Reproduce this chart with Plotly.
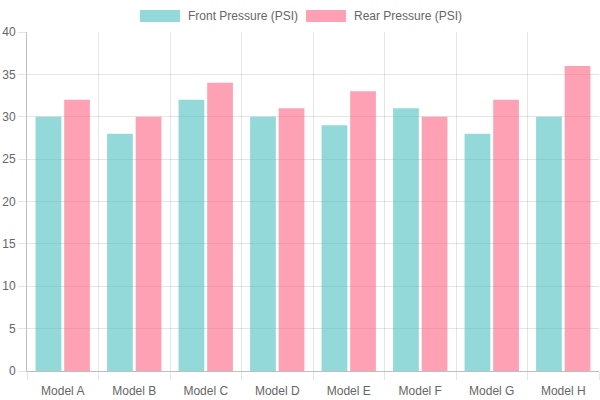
import plotly.graph_objects as go

models = ["Model A", "Model B", "Model C", "Model D", "Model E", "Model F", "Model G", "Model H"]
front_psi = [30, 28, 32, 30, 29, 31, 28, 30]
rear_psi = [32, 30, 34, 31, 33, 30, 32, 36]
series_names = ["Front Pressure (PSI)", "Rear Pressure (PSI)"]
y_ticks = [0, 5, 10, 15, 20, 25, 30, 35, 40]

front_color = "rgba(75,192,192,0.6)"
rear_color = "rgba(255,99,132,0.6)"

fig = go.Figure()
fig.add_trace(go.Bar(x=models, y=front_psi, name=series_names[0], marker=dict(color=front_color, line=dict(width=0)), showlegend=False))
fig.add_trace(go.Bar(x=models, y=rear_psi, name=series_names[1], marker=dict(color=rear_color, line=dict(width=0)), showlegend=False))

# custom Chart.js-like legend
legend_items = [(140, 180, 186, series_names[0], front_color), (306, 346, 352, series_names[1], rear_color)]
for x0, x1, tx, label, col in legend_items:
    fig.add_shape(type="rect", xref="paper", yref="paper",
                  x0=(x0 - 27) / 572, x1=(x1 - 27) / 572,
                  y0=(371 - 22) / 339, y1=(371 - 10) / 339,
                  fillcolor=col, line=dict(width=0))
    fig.add_annotation(xref="paper", yref="paper", x=(tx - 27) / 572, y=(371 - 16) / 339,
                       text=label, showarrow=False, xanchor="left", yanchor="middle",
                       font=dict(family="Liberation Sans, Arial, sans-serif", size=12, color="#666"))

fig.update_layout(
    width=600, height=400,
    margin=dict(l=27, r=1, t=32, b=29),
    paper_bgcolor="white", plot_bgcolor="white",
    barmode="group", bargap=0.2, bargroupgap=0.1,
    font=dict(family="Liberation Sans, Arial, sans-serif", size=12, color="#666"),
)
fig.update_xaxes(
    tickson="boundaries", showgrid=True, gridcolor="rgba(0,0,0,0.1)", gridwidth=1,
    ticks="outside", ticklen=8, tickcolor="rgba(0,0,0,0.1)",
    showline=True, linecolor="rgba(0,0,0,0.25)", linewidth=1,
    tickfont=dict(size=12, color="#666"), mirror=False, ticklabelstandoff=9,
)
fig.update_yaxes(
    range=[0, 40], tickvals=y_ticks, showgrid=True, gridcolor="rgba(0,0,0,0.1)", gridwidth=1,
    ticks="outside", ticklen=8, tickcolor="rgba(0,0,0,0.1)",
    showline=True, linecolor="rgba(0,0,0,0.25)", linewidth=1, zeroline=False,
    tickfont=dict(size=12, color="#666"),
)

fig.write_html("out.html")
